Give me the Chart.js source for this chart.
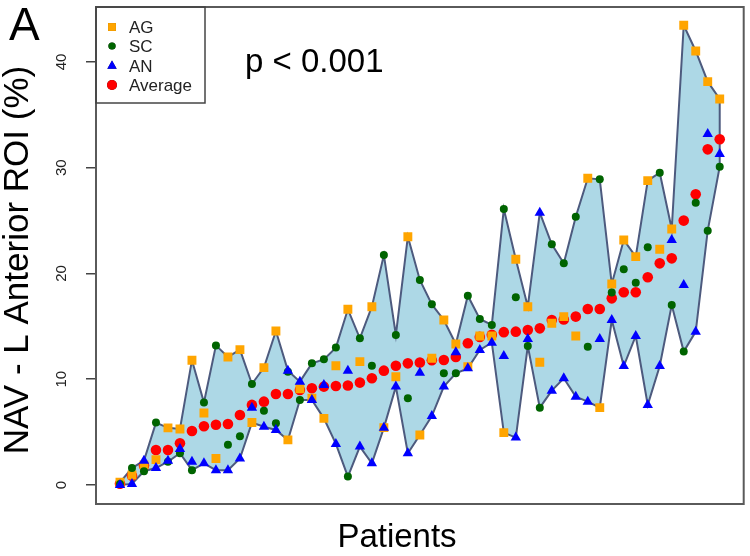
<!DOCTYPE html>
<html><head><meta charset="utf-8">
<script src="https://cdn.jsdelivr.net/npm/chart.js@4.4.1/dist/chart.umd.min.js"></script>
<style>html,body{margin:0;padding:0;background:#fff}#wrap{width:750px;height:556px}</style>
</head><body><div id="wrap"><canvas id="c" width="750" height="556"></canvas></div>
<script>
const patients = [1,2,3,4,5,6,7,8,9,10,11,12,13,14,15,16,17,18,19,20,21,22,23,24,25,26,27,28,29,30,31,32,33,34,35,36,37,38,39,40,41,42,43,44,45,46,47,48,49,50,51];
const AG  = [0.25,0.95,1.9,2.4,5.4,5.3,11.8,6.8,2.5,12.1,12.8,5.9,11.1,14.56,4.26,9.1,8.2,6.3,11.28,16.61,11.66,16.86,5.42,10.24,23.48,4.73,11.98,15.6,13.33,11.19,14.09,14.09,4.95,21.34,16.86,11.6,15.29,15.92,14.09,29.0,7.31,19.0,23.17,21.59,28.78,22.29,24.21,43.47,41.04,38.14,36.5];
const SC  = [0.1,1.6,1.3,5.9,2.2,3.0,1.4,7.8,13.2,3.8,4.6,9.55,7.03,5.83,10.7,8.04,11.5,11.88,12.99,0.79,13.87,11.28,21.75,14.18,8.2,19.39,17.08,10.56,10.56,17.9,15.7,15.13,26.1,17.75,13.14,7.31,22.76,20.96,25.37,13.08,28.9,18.19,20.39,19.13,22.47,29.53,17.02,12.61,26.7,24.05,30.1];
const AN  = [0.0,0.1,2.3,1.6,2.3,3.4,2.2,2.05,1.4,1.4,2.5,7.3,5.5,5.2,10.81,9.77,8.04,9.46,3.88,10.81,3.63,2.05,5.4,9.3,3.0,10.62,6.52,9.3,12.55,11.03,12.77,13.46,12.2,4.48,13.8,25.75,8.92,10.09,8.35,7.88,13.8,15.6,11.25,14.09,7.57,11.25,23.17,18.9,14.5,33.19,31.3];
const AVG = [0.12,0.88,1.83,3.3,3.3,3.94,5.1,5.55,5.7,5.77,6.62,7.57,7.88,8.6,8.6,8.98,9.14,9.3,9.36,9.4,9.68,10.09,10.81,11.28,11.5,11.58,11.8,11.82,12.1,13.4,14.0,14.2,14.45,14.5,14.66,14.81,15.6,15.65,15.92,16.64,16.64,17.65,18.22,18.22,19.64,20.96,21.43,25.0,27.49,31.74,32.69];
const yTicks = [0,10,20,30,40];
const yTickLabels = ['0','10','20','30','40'];
const seriesNames = ['AG','SC','AN','Average'];
const yTitle = 'NAV - L Anterior ROI (%)';
const xTitle = 'Patients';
const panelLabel = 'A';
const pText = 'p < 0.001';

const FONT = '"Liberation Sans", Arial, sans-serif';
const pts = arr => arr.map((v, i) => ({x: patients[i], y: v}));

// envelope polygon (max going right, min coming back), built from the series
const upper = patients.map((p, i) => ({x: p, y: Math.max(AG[i], SC[i], AN[i])}));
const lower = patients.map((p, i) => ({x: p, y: Math.min(AG[i], SC[i], AN[i])})).reverse();
const poly = upper.concat(lower, [upper[0]]);

const styles = {
  AG: {color: '#FFA500', style: 'rect', r: 6.3},
  SC: {color: '#006400', style: 'circle', r: 4},
  AN: {color: '#0000FF', style: 'triangle', r: 6},
  Average: {color: '#FF0000', style: 'circle', r: 5.3}
};
function ptDs(label, data, order) {
  const s = styles[label];
  return {label, data: pts(data), showLine: false, pointStyle: s.style, pointRadius: s.r,
    pointBackgroundColor: s.color, pointBorderColor: s.color, pointBorderWidth: 0, order};
}

const decor = {
  id: 'decor',
  afterDraw(chart) {
    const ctx = chart.ctx, a = chart.chartArea, ys = chart.scales.y;
    ctx.save();
    // frame
    ctx.strokeStyle = '#5a5a5a'; ctx.lineWidth = 2;
    ctx.strokeRect(a.left, a.top, a.right - a.left, a.bottom - a.top);
    // y tick labels (rotated like R)
    ctx.fillStyle = '#222';
    ctx.font = '15px ' + FONT;
    ctx.textAlign = 'center'; ctx.textBaseline = 'middle';
    yTicks.forEach((v, i) => {
      ctx.save(); ctx.translate(62, ys.getPixelForValue(v)); ctx.rotate(-Math.PI / 2);
      ctx.fillText(yTickLabels[i], 0, 0); ctx.restore();
    });
    // axis titles
    ctx.fillStyle = '#000';
    ctx.font = '35px ' + FONT;
    ctx.textAlign = 'center'; ctx.textBaseline = 'alphabetic';
    ctx.save(); ctx.translate(28, 260); ctx.rotate(-Math.PI / 2); ctx.fillText(yTitle, 0, 0); ctx.restore();
    ctx.font = '33px ' + FONT;
    ctx.fillText(xTitle, 397, 547);
    // panel label and p-value
    ctx.textAlign = 'left';
    ctx.font = '46px ' + FONT;
    ctx.fillText(panelLabel, 9, 40);
    ctx.font = '33px ' + FONT;
    ctx.fillText(pText, 245, 72);
    // legend
    ctx.strokeStyle = '#444'; ctx.lineWidth = 1.5;
    ctx.strokeRect(a.left, a.top, 109, 96);
    ctx.font = '17px ' + FONT; ctx.textBaseline = 'middle'; ctx.fillStyle = '#222';
    const rowsY = [27, 46, 66, 85];
    seriesNames.forEach((n, i) => {
      const s = styles[n];
      const r = n === 'Average' ? 5 : (n === 'AG' ? 5.6 : s.r * 0.9);
      Chart.helpers.drawPoint(ctx, {pointStyle: s.style, radius: r, borderWidth: 0}, 112, rowsY[i]);
      ctx.fillStyle = s.color; ctx.fill();
      ctx.fillStyle = '#222';
      ctx.fillText(n, 129, rowsY[i] + 1);
    });
    ctx.restore();
  }
};

new Chart(document.getElementById('c'), {
  type: 'scatter',
  data: {
    datasets: [
      {label: 'range', data: poly, showLine: true, fill: 'shape', backgroundColor: '#ADD8E6',
       borderColor: '#4d5a7e', borderWidth: 2, pointRadius: 0, tension: 0, order: 10},
      ptDs('Average', AVG, 5),
      ptDs('AG', AG, 4),
      ptDs('SC', SC, 3),
      ptDs('AN', AN, 2)
    ]
  },
  options: {
    responsive: false, animation: false, devicePixelRatio: 1,
    layout: {padding: {top: 7, right: 5, left: 0, bottom: 0}},
    plugins: {legend: {display: false}, tooltip: {enabled: false}},
    scales: {
      x: {type: 'linear', min: -1, max: 53, afterFit: s => { s.height = 52; },
          ticks: {display: false}, grid: {display: false}, border: {display: false}},
      y: {type: 'linear', min: -1.8, max: 45.2, afterFit: s => { s.width = 96; },
          afterBuildTicks: s => { s.ticks = yTicks.map(v => ({value: v})); },
          ticks: {display: false},
          grid: {drawOnChartArea: false, drawTicks: true, tickLength: 10, color: '#444', lineWidth: 1.5},
          border: {display: false}}
    }
  },
  plugins: [decor]
});
</script></body></html>
